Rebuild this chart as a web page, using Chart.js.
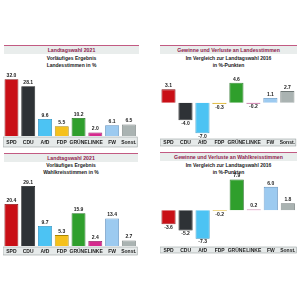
<!DOCTYPE html>
<html>
<head>
<meta charset="utf-8">
<script src="https://cdn.jsdelivr.net/npm/chart.js@4.4.0/dist/chart.umd.min.js"></script>
<style>
  body { margin: 0; background: #fff; font-family: "Liberation Sans", Arial, sans-serif; }
  #wrap { position: relative; width: 300px; height: 300px; overflow: hidden; }
  .bar { position: absolute; height: 8px; background: #e9edec; border-top: 1px solid #c25a82;
         color: #8e1c4c; font-weight: bold; font-size: 5.2px; line-height: 8px; text-align: center; }
  .sub { position: absolute; color: #222; font-weight: bold; font-size: 5px; line-height: 7.5px; text-align: center; }
  canvas { position: absolute; }
</style>
</head>
<body>
<div id="wrap">
  <div class="bar" style="left:4px;top:45px;width:135px;">Landtagswahl 2021</div>
  <div class="sub" style="left:4px;top:54.5px;width:135px;">Vorläufiges Ergebnis<br>Landesstimmen in %</div>

  <div class="bar" style="left:160px;top:45px;width:137px;">Gewinne und Verluste an Landesstimmen</div>
  <div class="sub" style="left:160px;top:54.5px;width:137px;">Im Vergleich zur Landtagswahl 2016<br>in %-Punkten</div>

  <div class="bar" style="left:4px;top:153px;width:134px;">Landtagswahl 2021</div>
  <div class="sub" style="left:4px;top:161.5px;width:134px;">Vorläufiges Ergebnis<br>Wahlkreisstimmen in %</div>

  <div class="bar" style="left:160px;top:152px;width:137px;">Gewinne und Verluste an Wahlkreisstimmen</div>
  <div class="sub" style="left:160px;top:162px;width:137px;line-height:7px;">Im Vergleich zur Landtagswahl 2016<br>in %-Punkten</div>

  <canvas id="c1" width="137" height="78" style="left:3px;top:70px;"></canvas>
  <canvas id="c2" width="137" height="75" style="left:160px;top:72px;"></canvas>
  <canvas id="c3" width="136" height="80" style="left:3px;top:176px;"></canvas>
  <canvas id="c4" width="137" height="84" style="left:160px;top:170px;"></canvas>
</div>
<script>
// Parteien und Ergebnisse
var parties = ['SPD', 'CDU', 'AfD', 'FDP', 'GRÜNE', 'LINKE', 'FW', 'Sonst.'];
var landesstimmen = [32.0, 28.1, 9.6, 5.5, 10.2, 2.0, 6.1, 6.5];
var landesDiff = [3.1, -4.0, -7.0, -0.3, 4.6, -0.2, 1.1, 2.7];
var wahlkreisstimmen = [20.4, 29.1, 9.7, 5.3, 15.9, 2.4, 13.4, 2.7];
var wahlkreisDiff = [-3.6, -5.2, -7.3, -0.2, 7.9, 0.2, 6.0, 1.8];

var fillColors = ['#c90f16', '#2e3236', '#4cc3f3', '#f5c11c', '#2f9f2c', '#d52a8e', '#9ccaf0', '#aab3b2'];
var lineColors = ['#7e0a0e', '#121416', '#2a8fbf', '#a98500', '#1b6a1a', '#8a1a5c', '#5d8fbd', '#6f7877'];

    // Plugin used to draw the grey band behind the party names
    var bandPlugin = {
        id: 'band',
        beforeDraw: function (chart) {
            var ctx = chart.ctx;
            var x = chart.scales.x;
            ctx.save();
            ctx.fillStyle = '#e6eaea';
            ctx.strokeStyle = '#9aa2a2';
            ctx.lineWidth = 0.6;
            ctx.fillRect(x.left, x.top + 1, x.right - x.left, x.bottom - x.top - 2);
            ctx.strokeRect(x.left, x.top + 1, x.right - x.left, x.bottom - x.top - 2);
            ctx.restore();
        }
    };

    // Plugin used to write the values above or below each bar
    var valuePlugin = {
        id: 'values',
        afterDatasetsDraw: function (chart) {
            var ctx = chart.ctx;
            var data = chart.data.datasets[0].data;
            ctx.save();
            ctx.font = 'bold 5px "Liberation Sans", Arial, sans-serif';
            ctx.fillStyle = '#222';
            ctx.textAlign = 'center';
            chart.getDatasetMeta(0).data.forEach(function (bar, i) {
                var txt = data[i].toFixed(1);
                if (data[i] >= 0) {
                    ctx.textBaseline = 'bottom';
                    ctx.fillText(txt, bar.x, bar.y - 1);
                } else {
                    ctx.textBaseline = 'top';
                    ctx.fillText(txt, bar.x, bar.y + 0.8);
                }
            });
            ctx.restore();
        }
    };

    function drawChart(id, values, min, max, axisHeight, padTop) {
        var ctx = document.getElementById(id).getContext('2d');
        new Chart(ctx, {
            type: 'bar',
            data: {
                labels: parties,
                datasets: [{
                    data: values,
                    backgroundColor: fillColors,
                    borderColor: lineColors,
                    borderWidth: 0.8,
                    barPercentage: 0.83,
                    categoryPercentage: 1
                }]
            },
            options: {
                responsive: false,
                animation: false,
                layout: { padding: { top: padTop, left: 0, right: 0, bottom: 0 } },
                plugins: { legend: { display: false }, tooltip: { enabled: false } },
                scales: {
                    x: {
                        grid: { display: false, drawTicks: false },
                        border: { display: false },
                        ticks: {
                            color: '#222',
                            padding: (axisHeight - 5) / 2,
                            maxRotation: 0,
                            autoSkip: false,
                            font: { family: '"Liberation Sans", Arial, sans-serif', size: 5, weight: 'bold' }
                        },
                        afterFit: function (scale) { scale.height = axisHeight; }
                    },
                    y: { display: false, min: min, max: max }
                }
            },
            plugins: [bandPlugin, valuePlugin]
        });
    }

    drawChart('c1', landesstimmen, 0, 35, 12, 4);
    drawChart('c2', landesDiff, -8.1, 6.4, 9, 3);
    drawChart('c3', wahlkreisstimmen, 0, 33, 10, 2);
    drawChart('c4', wahlkreisDiff, -9.15, 9.8, 8, 2);
</script>
</body>
</html>
